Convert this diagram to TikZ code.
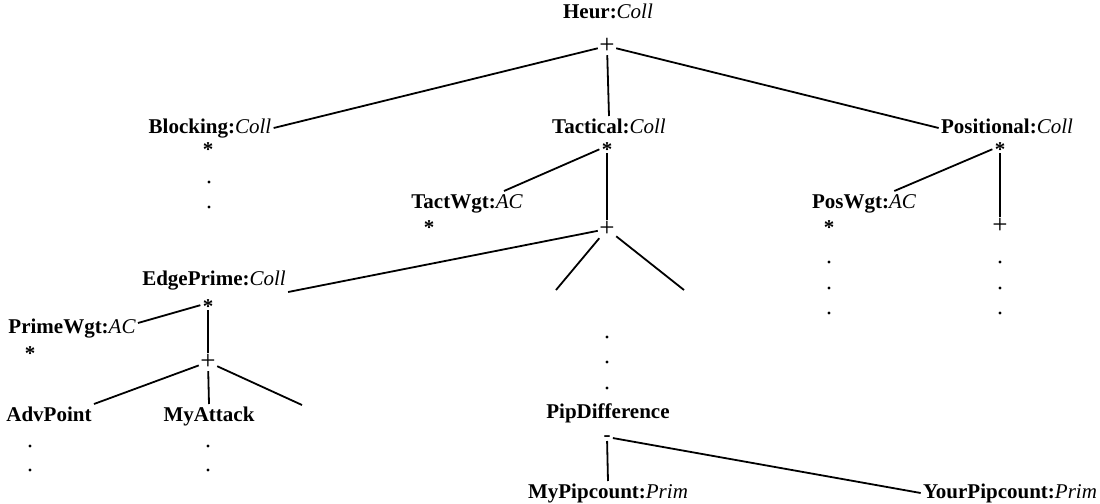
\documentclass[tikz,border=0pt]{standalone}
\usepackage{fontspec}
\setmainfont{Liberation Serif}
\newcommand\tyname[1]{\mdseries\itshape #1}
\newcommand\stg{\raisebox{-5.1pt}{\bfseries *}}
\newcommand\mng{\raisebox{-2.4pt}{\bfseries -}}
\begin{document}
\begin{tikzpicture}[x=0.5pt,y=-0.5pt,
  lab/.style={font=\fontsize{10.5}{12}\selectfont\bfseries, inner sep=1pt, text height=7.3pt, text depth=2.3pt},
  op/.style={font=\fontsize{13.5}{15}\selectfont, inner sep=0.6pt},
  starn/.style={font=\fontsize{10.5}{12}\selectfont, inner sep=1pt, text height=2.3pt, text depth=2.3pt},
  minusn/.style={font=\fontsize{10.5}{12}\selectfont, inner sep=1pt, text height=0.8pt, text depth=0.8pt},
  ln/.style={line width=0.9pt},
  dt/.style={fill=black},
]
\useasboundingbox (0,0) rectangle (1100,504);

% root
\node[lab] (heur) at (608,13) {Heur:\tyname{Coll}};
\node[op] (hplus) at (607,46) {+};

% level 1
\node[lab] (blk) at (210,128) {Blocking:\tyname{Coll}};
\node[starn] (bstar) at (208,146) {\stg};
\node[lab] (tac) at (609,128) {Tactical:\tyname{Coll}};
\node[starn] (tstar) at (607,146) {\stg};
\node[lab] (pos) at (1007,128) {Positional:\tyname{Coll}};
\node[starn] (pstar) at (1000,146) {\stg};

% tactical subtree
\node[lab] (tw) at (467,203) {TactWgt:\tyname{AC}};
\node[starn] (twstar) at (429,224) {\stg};
\node[op] (tplus) at (607,229) {+};
\coordinate (tb1) at (556,290);
\coordinate (tb2) at (684,290);
\node[lab] (pip) at (608,413) {PipDifference};
\node[minusn] (pminus) at (607,437) {\mng};
\node[lab] (mypc) at (608,493) {MyPipcount:\tyname{Prim}};
\node[lab] (yourpc) at (1010,493) {YourPipcount:\tyname{Prim}};

% positional subtree
\node[lab] (pw) at (864,203) {PosWgt:\tyname{AC}};
\node[starn] (pwstar) at (829,224) {\stg};
\node[op] (pplus) at (1000,226) {+};

% edgeprime subtree
\node[lab] (edge) at (214,280) {EdgePrime:\tyname{Coll}};
\node[starn] (estar) at (208,303) {\stg};
\node[lab] (prw) at (72,328) {PrimeWgt:\tyname{AC}};
\node[starn] (prwstar) at (30,350) {\stg};
\node[op] (eplus) at (208,362) {+};
\node[lab] (adv) at (49,416) {AdvPoint};
\node[lab] (myat) at (209,416) {MyAttack};
\coordinate (eb) at (302,405);

% connectors
\draw[ln] (hplus) -- (blk.east);
\draw[ln] (hplus) -- (tac.north);
\draw[ln] (hplus) -- (pos.west);
\draw[ln] (tstar) -- ([xshift=-10.5pt]tw.north east);
\draw[ln] (tstar) -- (tplus);
\draw[ln] (tplus) -- (edge.south east);
\draw[ln] (tplus) -- (tb1);
\draw[ln] (tplus) -- (tb2);
\draw[ln] (pminus) -- (mypc.north);
\draw[ln] (pminus) -- (yourpc.west);
\draw[ln] (pstar) -- ([xshift=-12pt]pw.north east);
\draw[ln] (pstar) -- (pplus);
\draw[ln] (estar) -- ([yshift=2.5pt]prw.east);
\draw[ln] (estar) -- (eplus);
\draw[ln] (eplus) -- (adv.north east);
\draw[ln] (eplus) -- (myat.north);
\draw[ln] (eplus) -- (eb);

% ellipsis dots
\foreach \x/\y in {209/182, 209/207,
                   607/337, 607/362, 607/388,
                   829/262, 829/288, 829/313,
                   1000/262, 1000/288, 1000/313,
                   30/446, 30/470, 208/446, 208/470}
  \fill[dt] (\x,\y) circle (1.6);
\end{tikzpicture}
\end{document}
